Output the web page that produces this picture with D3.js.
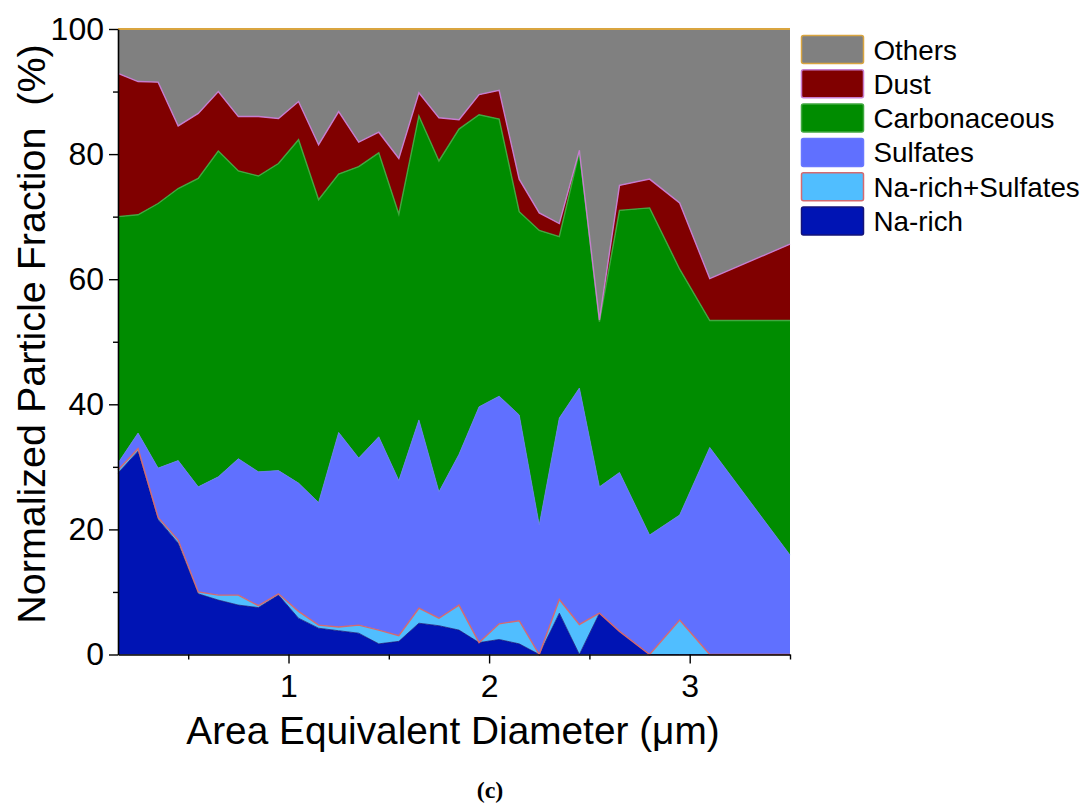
<!DOCTYPE html>
<head>
  <meta charset="utf-8">
  <script src="https://d3js.org/d3.v7.min.js"></script>
  <style>
    body { margin:0; background:#fff; }
    text { font-family: "Liberation Sans", Arial, sans-serif; fill:#000; }
  </style>
</head>

<body>
  <script>
    var width = 1084;
    var height = 807;

    // particle diameter bins (um)
    var diameters = [0.15, 0.25, 0.35, 0.45, 0.55, 0.65, 0.75, 0.85, 0.95, 1.05,
                     1.15, 1.25, 1.35, 1.45, 1.55, 1.65, 1.75, 1.85, 1.95, 2.05,
                     2.15, 2.25, 2.35, 2.45, 2.55, 2.65, 2.8, 2.95, 3.1, 3.5];

    // fractions (%) per class, bottom to top
    var naRich    = [29.0, 32.5, 21.6, 17.8, 9.7, 8.7, 7.9, 7.5, 9.5, 5.8,
                     4.2, 3.8, 3.4, 1.7, 2.1, 5.0, 4.6, 3.9, 1.9, 2.4,
                     1.7, 0.0, 6.6, 0.0, 6.6, 3.7, 0.0, 0.0, 0.0, 0.0];
    var naSulf    = [0.5, 0.4, 0.3, 0.5, 0.3, 0.8, 1.6, 0.3, 0.2, 1.1,
                     0.5, 0.6, 1.3, 2.2, 0.9, 2.4, 1.2, 4.0, 0.0, 2.5,
                     3.7, 0.0, 2.2, 4.8, 0.0, 0.0, 0.0, 5.5, 0.0, 0.0];
    var sulfates  = [1.1, 2.5, 7.9, 12.7, 16.8, 18.9, 21.8, 21.4, 19.7, 20.5,
                     19.6, 31.1, 26.7, 30.9, 24.8, 30.1, 20.2, 24.1, 37.7, 36.4,
                     32.9, 20.7, 29.0, 37.8, 20.2, 25.4, 19.1, 16.8, 33.1, 15.9];
    var carbon    = [39.4, 34.9, 42.3, 43.5, 49.3, 52.1, 46.0, 47.3, 49.1, 54.9,
                     48.4, 41.3, 46.6, 45.4, 42.6, 48.6, 52.9, 52.0, 46.7, 44.3,
                     32.5, 47.1, 29.0, 37.8, 26.4, 41.9, 52.3, 39.3, 20.3, 37.5];
    var dust      = [22.9, 21.3, 19.4, 10.0, 10.4, 9.5, 8.7, 9.5, 7.2, 6.1,
                     8.8, 10.0, 3.9, 3.3, 8.9, 3.7, 6.9, 1.5, 3.2, 4.6,
                     5.2, 2.8, 2.1, 0.2, 0.3, 4.0, 4.6, 10.6, 6.7, 12.2];
    var others    = [7.1, 8.4, 8.5, 15.5, 13.5, 10.0, 14.0, 14.0, 14.3, 11.6,
                     18.5, 13.2, 18.1, 16.5, 20.7, 10.2, 14.2, 14.5, 10.5, 9.8,
                     24.0, 29.4, 31.1, 19.4, 46.5, 25.0, 24.0, 27.8, 39.9, 34.4];

    var seriesNames = ["Na-rich", "Na-rich+Sulfates", "Sulfates", "Carbonaceous", "Dust", "Others"];
    var fills  = ["#0014b4", "#50beff", "#6070ff", "#008c00", "#800000", "#808080"];
    var lines  = ["#14147a", "#d46a70", "#6a78ff", "#40a840", "#c77dcf", "#d9a540"];

    var xTicks = [1, 2, 3];
    var xMinor = [0.5, 1.5, 2.5, 3.5];
    var yTicks = [0, 20, 40, 60, 80, 100];
    var yMinor = [10, 30, 50, 70, 90];

    var rows = diameters.map(function(d, i) {
      return {
        x: d,
        "Na-rich": naRich[i],
        "Na-rich+Sulfates": naSulf[i],
        "Sulfates": sulfates[i],
        "Carbonaceous": carbon[i],
        "Dust": dust[i],
        "Others": others[i]
      };
    });

    var stacked = d3.stack().keys(seriesNames)(rows);

    var plotL = 118, plotR = 790, plotT = 29, plotB = 654.5;

    var x = d3.scaleLinear().domain([0.15, 3.5]).range([plotL, plotR]);
    var y = d3.scaleLinear().domain([0, 100]).range([plotB, plotT]);

    var svg = d3.select("body")
      .append("svg")
      .attr("width", width)
      .attr("height", height);

    var area = d3.area()
      .x(function(d) { return x(d.data.x); })
      .y0(function(d) { return y(d[0]); })
      .y1(function(d) { return y(d[1]); });

    var line = d3.line()
      .x(function(d) { return x(d.data.x); })
      .y(function(d) { return y(d[1]); });

    svg.selectAll('.layer')
      .data(stacked)
      .enter()
      .append('path')
      .attr('class', 'layer')
      .attr('d', area)
      .attr('fill', function(d, i) { return fills[i]; });

    svg.selectAll('.edge')
      .data(stacked)
      .enter()
      .append('path')
      .attr('class', 'edge')
      .attr('d', line)
      .attr('fill', 'none')
      .attr('stroke', function(d, i) { return lines[i]; })
      .attr('stroke-width', function(d, i) { return i == 0 || i == 2 ? 0.8 : (i == 5 ? 2.2 : 1.4); });

    // axes
    var axisFont = 32;
    var gx = svg.append('g').attr('transform', 'translate(0,' + plotB + ')');
    gx.call(d3.axisBottom(x).tickValues(xTicks).tickFormat(d3.format('d')).tickSize(9).tickSizeOuter(0).tickPadding(11));
    gx.append('g').call(d3.axisBottom(x).tickValues(xMinor).tickSize(5).tickFormat('').tickSizeOuter(0))
      .select('.domain').remove();

    var gy = svg.append('g').attr('transform', 'translate(' + plotL + ',0)');
    gy.call(d3.axisLeft(y).tickValues(yTicks).tickSize(9).tickSizeOuter(0).tickPadding(5));
    gy.append('g').call(d3.axisLeft(y).tickValues(yMinor).tickSize(5).tickFormat('').tickSizeOuter(0))
      .select('.domain').remove();

    svg.selectAll('.domain').attr('stroke', '#000').attr('stroke-width', 1.6);
    svg.selectAll('.tick line').attr('stroke', '#000').attr('stroke-width', 1.4);
    svg.selectAll('.tick text')
      .style('font-size', axisFont + 'px')
      .style('font-family', '"Liberation Sans", Arial, sans-serif')
      .attr('fill', '#000');

    // axis titles
    svg.append('text')
      .attr('transform', 'translate(45,334) rotate(-90)')
      .attr('text-anchor', 'middle')
      .style('font-size', '39.5px')
      .text('Normalized Particle Fraction\u00a0\u00a0(%)');

    svg.append('text')
      .attr('x', 453)
      .attr('y', 744)
      .attr('text-anchor', 'middle')
      .style('font-size', '38.8px')
      .text('Area Equivalent Diameter (\u03bcm)');

    svg.append('text')
      .attr('x', 490)
      .attr('y', 798)
      .attr('text-anchor', 'middle')
      .style('font-family', '"Liberation Serif", "DejaVu Serif", serif')
      .style('font-weight', 'bold')
      .style('font-size', '24px')
      .text('(c)');

    // legend, top entry first
    var legend = svg.append('g').attr('transform', 'translate(801.5,35.5)');
    var order = d3.range(seriesNames.length).reverse();
    var item = legend.selectAll('.item')
      .data(order)
      .enter()
      .append('g')
      .attr('class', 'item')
      .attr('transform', function(d, i) { return 'translate(0,' + (i * 34.3) + ')'; });

    item.append('rect')
      .attr('width', 62)
      .attr('height', 28)
      .attr('rx', 2)
      .attr('fill', function(d) { return fills[d]; })
      .attr('stroke', function(d) { return lines[d]; })
      .attr('stroke-width', 1.5);

    item.append('text')
      .attr('x', 72)
      .attr('y', 24)
      .style('font-size', '27.8px')
      .text(function(d) { return seriesNames[d]; });
  </script>
</body>
